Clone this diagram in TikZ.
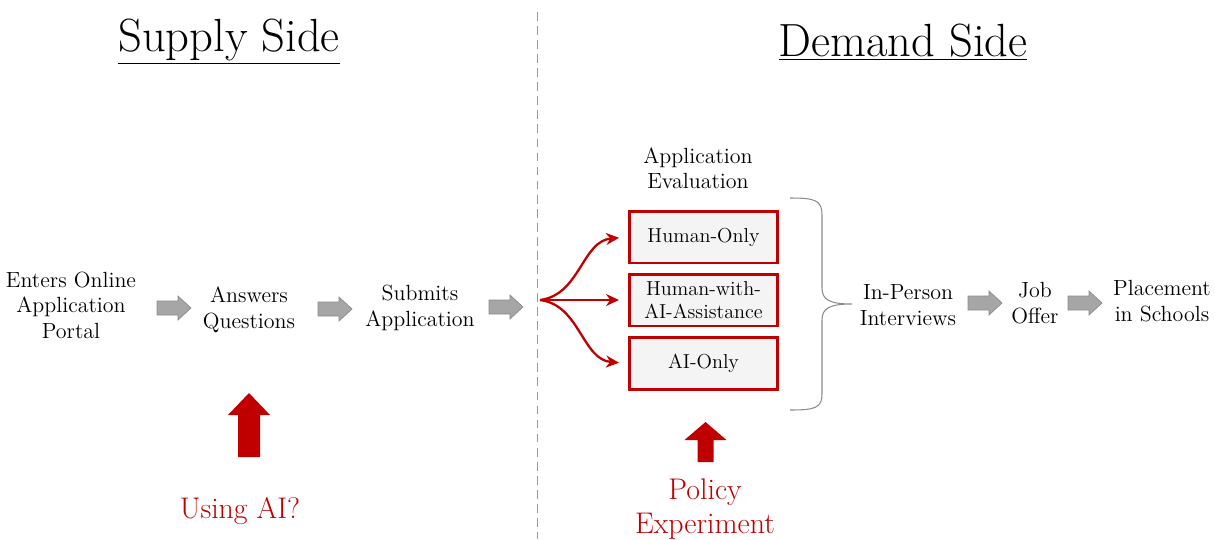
\documentclass[tikz,border=0pt]{standalone}
\usepackage{fontspec}
\usepackage{tikz}
\usetikzlibrary{arrows.meta}
\definecolor{aired}{RGB}{192,0,0}
\definecolor{arrowgray}{RGB}{166,166,166}
\definecolor{arrowedge}{RGB}{140,140,140}
\definecolor{boxfill}{RGB}{244,244,244}
\newcommand{\titlefont}{\fontsize{26.5}{31}\selectfont}
\newcommand{\redfont}{\fontsize{17}{19.5}\selectfont}

\tikzset{
  lbl/.style={align=center, inner sep=1pt, font=\fontsize{12.5}{14.5}\selectfont},
  redbox/.style={draw=aired, line width=1.7pt, fill=boxfill, minimum width=2.96cm,
    minimum height=1.04cm, align=center, font=\fontsize{11.5}{13.5}\selectfont},
  fanarrow/.style={aired, line width=1.3pt, -{Stealth[length=0.26cm,width=0.24cm]}, shorten >=0.18cm},
  grayarrow/.pic={
    \draw[fill=arrowgray, draw=arrowedge, line width=0.4pt]
      (0,-7) -- (21,-7) -- (21,-12) -- (34,0) -- (21,12) -- (21,7) -- (0,7) -- cycle;
  }
}

\begin{document}
\begin{tikzpicture}[x=0.02cm, y=-0.02cm]

      \useasboundingbox (0,0) rectangle (1215,539);

      % divider between the two sides
      \draw [gray!80, dashed, dash pattern=on 5pt off 3pt] (537,12) -- (537,539);

      \node (supply) at (229,42) {\titlefont\underline{Supply Side}};
      \node (demand) at (903,42) {\titlefont\underline{Demand Side}};

      % supply side steps
      \node[lbl] (portal) at (71,305) {Enters Online\\Application\\Portal};
      \pic at (157,308) {grayarrow};
      \node[lbl] (answers) at (249,310) {Answers\\Questions};
      \pic at (318,309) {grayarrow};
      \node[lbl] (submits) at (420,308) {Submits\\Application};
      \pic at (489,307) {grayarrow};

      % application evaluation
      \node[lbl] (evaluation) at (698,168) {Application\\Evaluation};
      \node[redbox] (humanonly) at (703.5,237) {Human-Only};
      \node[redbox] (humanai) at (703.5,300) {Human-with-\\AI-Assistance};
      \node[redbox] (aionly) at (703.5,363.5) {AI-Only};

      \coordinate (fan) at (540,300);
      \draw[fanarrow] (fan) .. controls +(40,-5) and +(-46,4) .. (humanonly.west);
      \draw[fanarrow] (fan) -- (humanai.west);
      \draw[fanarrow] (fan) .. controls +(40,5) and +(-46,-4) .. (aionly.west);

      % brace
      \draw [arrowedge, line width=0.6pt] (790,198) .. controls (815,198) and (822,200) .. (822,215)
        -- (822,288) .. controls (822,300) and (830,304) .. (852,304)
        .. controls (830,304) and (822,308) .. (822,320)
        -- (822,394) .. controls (822,408) and (815,410) .. (790,410);

      % demand side steps
      \node[lbl] (interviews) at (908,305) {In-Person\\Interviews};
      \pic at (968,303) {grayarrow};
      \node[lbl] (offer) at (1035,303) {Job\\Offer};
      \pic at (1068,303) {grayarrow};
      \node[lbl] (placement) at (1162,301) {Placement\\in Schools};

      % red markers
      \fill[aired, shift={(249,457)}] (-11,0) -- (-11,-42) -- (-21,-42) -- (0,-64)
        -- (21,-42) -- (11,-42) -- (11,0) -- cycle;
      \node[text=aired] (usingai) at (240,511) {\redfont Using AI?};

      \fill[aired, shift={(705.5,462)}] (-8,0) -- (-8,-22) -- (-21,-22) -- (0,-40)
        -- (21,-22) -- (8,-22) -- (8,0) -- cycle;
      \node[text=aired, align=center, font=\redfont] (policy) at (705,509) {Policy\\Experiment};

    \end{tikzpicture}
\end{document}
